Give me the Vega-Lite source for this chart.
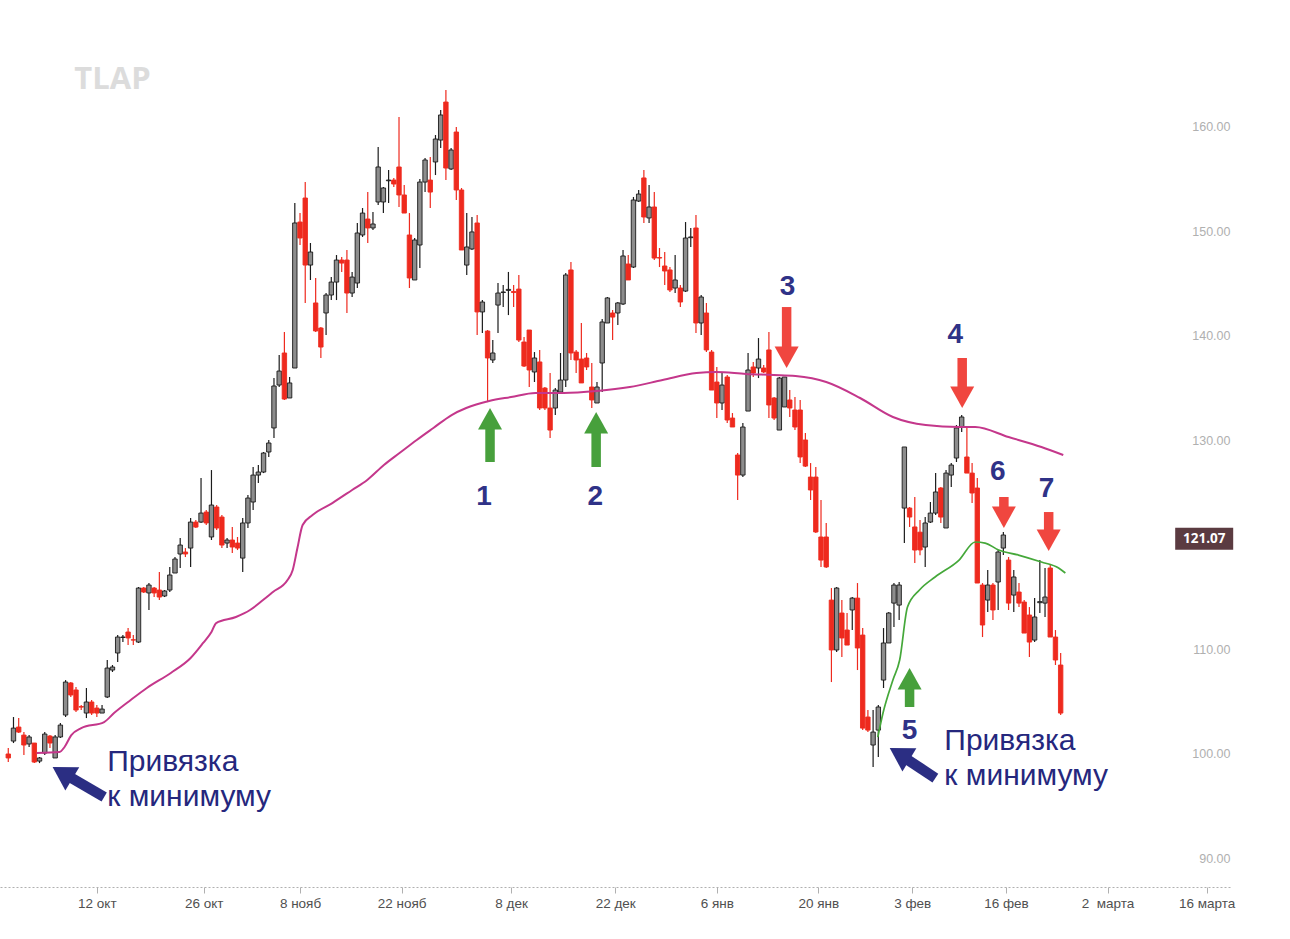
{
  "$schema": "https://vega.github.io/schema/vega-lite/v6.json",
  "width": 1232,
  "height": 887,
  "padding": {"left": 0, "top": 0, "right": 58, "bottom": 52},
  "autosize": {"type": "none"},
  "background": "white",
  "config": {"view": {"stroke": null}},
  "datasets": {
    "candles": [
      {"i":0,"o":99.96,"h":100.53,"l":99.19,"c":99.58},
      {"i":1,"o":101.20,"h":103.50,"l":101.01,"c":102.44},
      {"i":2,"o":102.54,"h":103.40,"l":101.96,"c":102.06},
      {"i":3,"o":101.77,"h":102.06,"l":99.86,"c":100.82},
      {"i":4,"o":100.92,"h":101.77,"l":100.63,"c":101.59},
      {"i":5,"o":101.01,"h":101.01,"l":99.09,"c":99.19},
      {"i":6,"o":99.28,"h":99.67,"l":99.09,"c":99.58},
      {"i":7,"o":100.05,"h":102.06,"l":99.86,"c":101.87},
      {"i":8,"o":101.68,"h":101.77,"l":100.53,"c":101.01},
      {"i":9,"o":99.58,"h":101.77,"l":99.58,"c":101.59},
      {"i":10,"o":101.59,"h":102.92,"l":101.49,"c":102.73},
      {"i":11,"o":103.69,"h":107.04,"l":103.50,"c":106.85},
      {"i":12,"o":106.76,"h":106.85,"l":105.42,"c":105.61},
      {"i":13,"o":106.09,"h":106.37,"l":103.98,"c":104.17},
      {"i":14,"o":104.50,"h":104.65,"l":104.17,"c":104.45},
      {"i":15,"o":103.88,"h":106.28,"l":103.40,"c":104.94},
      {"i":16,"o":104.94,"h":105.13,"l":103.69,"c":103.88},
      {"i":17,"o":104.36,"h":104.65,"l":103.50,"c":103.88},
      {"i":18,"o":103.88,"h":104.65,"l":103.88,"c":104.26},
      {"i":19,"o":105.42,"h":108.96,"l":105.32,"c":108.19},
      {"i":20,"o":108.00,"h":108.48,"l":107.81,"c":108.29},
      {"i":21,"o":109.63,"h":111.35,"l":108.77,"c":111.16},
      {"i":22,"o":111.12,"h":111.35,"l":110.68,"c":111.16},
      {"i":23,"o":111.64,"h":112.02,"l":110.39,"c":111.07},
      {"i":24,"o":110.90,"h":111.35,"l":110.39,"c":110.87},
      {"i":25,"o":110.68,"h":115.95,"l":110.59,"c":115.85},
      {"i":26,"o":115.85,"h":115.95,"l":115.38,"c":115.47},
      {"i":27,"o":115.38,"h":116.33,"l":113.75,"c":116.14},
      {"i":28,"o":115.85,"h":115.95,"l":114.99,"c":115.38},
      {"i":29,"o":115.66,"h":117.39,"l":114.70,"c":114.99},
      {"i":30,"o":115.09,"h":115.66,"l":114.99,"c":115.57},
      {"i":31,"o":115.66,"h":117.87,"l":115.47,"c":117.10},
      {"i":32,"o":117.29,"h":118.82,"l":117.29,"c":118.63},
      {"i":33,"o":119.11,"h":120.64,"l":117.77,"c":119.97},
      {"i":34,"o":119.30,"h":119.68,"l":118.82,"c":119.11},
      {"i":35,"o":119.68,"h":122.56,"l":117.87,"c":122.17},
      {"i":36,"o":122.17,"h":122.36,"l":121.60,"c":121.69},
      {"i":37,"o":122.17,"h":126.39,"l":122.08,"c":123.03},
      {"i":38,"o":123.13,"h":123.32,"l":121.89,"c":122.08},
      {"i":39,"o":120.74,"h":127.15,"l":120.45,"c":123.80},
      {"i":40,"o":123.61,"h":123.80,"l":121.41,"c":121.60},
      {"i":41,"o":122.65,"h":122.84,"l":119.68,"c":119.97},
      {"i":42,"o":120.16,"h":120.64,"l":119.68,"c":120.45},
      {"i":43,"o":120.45,"h":121.70,"l":119.20,"c":119.78},
      {"i":44,"o":120.16,"h":120.74,"l":119.49,"c":119.68},
      {"i":45,"o":118.72,"h":122.56,"l":117.39,"c":122.08},
      {"i":46,"o":122.08,"h":124.76,"l":121.60,"c":124.47},
      {"i":47,"o":124.09,"h":127.44,"l":123.32,"c":126.67},
      {"i":48,"o":126.67,"h":127.63,"l":125.91,"c":126.96},
      {"i":49,"o":126.96,"h":128.88,"l":126.86,"c":128.78},
      {"i":50,"o":128.88,"h":130.03,"l":128.40,"c":129.74},
      {"i":51,"o":131.18,"h":135.96,"l":130.22,"c":135.20},
      {"i":52,"o":135.29,"h":138.17,"l":135.10,"c":136.63},
      {"i":53,"o":138.36,"h":140.37,"l":133.86,"c":133.95},
      {"i":54,"o":134.05,"h":136.06,"l":134.05,"c":135.49},
      {"i":55,"o":136.92,"h":152.72,"l":136.92,"c":150.81},
      {"i":56,"o":150.90,"h":151.76,"l":148.70,"c":149.37},
      {"i":57,"o":153.20,"h":154.73,"l":143.15,"c":146.78},
      {"i":58,"o":146.78,"h":148.89,"l":145.35,"c":148.03},
      {"i":59,"o":143.15,"h":145.54,"l":140.37,"c":140.47},
      {"i":60,"o":140.75,"h":140.85,"l":137.88,"c":138.93},
      {"i":61,"o":142.19,"h":144.10,"l":140.08,"c":143.91},
      {"i":62,"o":143.91,"h":145.63,"l":143.43,"c":145.15},
      {"i":63,"o":145.15,"h":147.74,"l":143.43,"c":147.26},
      {"i":64,"o":147.26,"h":147.55,"l":146.12,"c":146.97},
      {"i":65,"o":147.26,"h":148.22,"l":142.19,"c":144.10},
      {"i":66,"o":144.10,"h":146.12,"l":143.72,"c":145.63},
      {"i":67,"o":145.06,"h":150.81,"l":144.58,"c":149.85},
      {"i":68,"o":149.66,"h":152.24,"l":149.47,"c":151.76},
      {"i":69,"o":151.19,"h":153.77,"l":148.89,"c":150.33},
      {"i":70,"o":150.33,"h":151.86,"l":150.14,"c":150.71},
      {"i":71,"o":152.82,"h":158.08,"l":152.53,"c":156.17},
      {"i":72,"o":152.82,"h":154.25,"l":151.76,"c":154.16},
      {"i":73,"o":154.85,"h":155.88,"l":152.72,"c":154.92},
      {"i":74,"o":154.92,"h":155.12,"l":154.25,"c":154.54},
      {"i":75,"o":156.17,"h":160.96,"l":152.34,"c":153.49},
      {"i":76,"o":153.49,"h":154.45,"l":151.76,"c":151.76},
      {"i":77,"o":149.66,"h":151.76,"l":144.58,"c":145.54},
      {"i":78,"o":145.35,"h":149.37,"l":145.35,"c":149.18},
      {"i":79,"o":148.70,"h":155.02,"l":146.50,"c":154.73},
      {"i":80,"o":154.73,"h":157.03,"l":153.77,"c":156.84},
      {"i":81,"o":154.92,"h":157.13,"l":152.24,"c":153.77},
      {"i":82,"o":156.65,"h":159.23,"l":155.40,"c":158.85},
      {"i":83,"o":158.75,"h":161.63,"l":157.99,"c":161.15},
      {"i":84,"o":162.39,"h":163.54,"l":154.92,"c":156.07},
      {"i":85,"o":155.98,"h":157.99,"l":155.88,"c":157.80},
      {"i":86,"o":159.52,"h":160.00,"l":153.01,"c":153.97},
      {"i":87,"o":153.97,"h":154.16,"l":148.22,"c":148.22},
      {"i":88,"o":146.78,"h":151.76,"l":145.83,"c":148.51},
      {"i":89,"o":148.32,"h":151.38,"l":148.22,"c":149.95},
      {"i":90,"o":150.81,"h":151.57,"l":140.08,"c":142.29},
      {"i":91,"o":142.29,"h":143.43,"l":140.27,"c":143.24},
      {"i":92,"o":140.46,"h":140.56,"l":133.66,"c":137.88},
      {"i":93,"o":137.69,"h":139.60,"l":137.40,"c":138.36},
      {"i":94,"o":142.95,"h":145.06,"l":140.27,"c":144.10},
      {"i":95,"o":144.15,"h":144.87,"l":142.76,"c":144.20},
      {"i":96,"o":144.35,"h":146.12,"l":141.99,"c":144.45},
      {"i":97,"o":144.25,"h":144.87,"l":142.76,"c":144.15},
      {"i":98,"o":144.48,"h":145.83,"l":139.41,"c":139.60},
      {"i":99,"o":139.41,"h":139.89,"l":137.01,"c":137.11},
      {"i":100,"o":140.56,"h":140.56,"l":135.10,"c":136.73},
      {"i":101,"o":136.54,"h":138.45,"l":135.58,"c":137.88},
      {"i":102,"o":137.50,"h":138.65,"l":132.90,"c":133.09},
      {"i":103,"o":135.00,"h":135.10,"l":132.90,"c":133.09},
      {"i":104,"o":133.09,"h":136.44,"l":130.22,"c":130.98},
      {"i":105,"o":133.09,"h":135.00,"l":132.42,"c":134.81},
      {"i":106,"o":134.62,"h":138.36,"l":134.53,"c":135.77},
      {"i":107,"o":135.77,"h":146.02,"l":135.10,"c":145.83},
      {"i":108,"o":146.31,"h":147.07,"l":137.69,"c":138.36},
      {"i":109,"o":138.45,"h":138.65,"l":136.44,"c":137.69},
      {"i":110,"o":137.78,"h":141.23,"l":135.49,"c":135.49},
      {"i":111,"o":137.88,"h":138.36,"l":136.73,"c":137.02},
      {"i":112,"o":135.10,"h":137.40,"l":133.09,"c":133.86},
      {"i":113,"o":133.57,"h":135.58,"l":133.57,"c":135.10},
      {"i":114,"o":137.40,"h":141.61,"l":134.62,"c":141.33},
      {"i":115,"o":141.23,"h":143.72,"l":141.23,"c":143.63},
      {"i":116,"o":142.19,"h":142.48,"l":139.60,"c":141.80},
      {"i":117,"o":142.19,"h":143.24,"l":141.04,"c":143.15},
      {"i":118,"o":143.05,"h":148.22,"l":142.95,"c":147.65},
      {"i":119,"o":146.88,"h":147.74,"l":145.35,"c":145.35},
      {"i":120,"o":146.59,"h":153.30,"l":146.50,"c":153.01},
      {"i":121,"o":152.91,"h":153.97,"l":152.82,"c":153.58},
      {"i":122,"o":155.12,"h":155.88,"l":150.81,"c":151.38},
      {"i":123,"o":151.29,"h":154.45,"l":150.81,"c":152.34},
      {"i":124,"o":152.34,"h":153.77,"l":147.26,"c":147.45},
      {"i":125,"o":147.50,"h":148.41,"l":146.59,"c":147.45},
      {"i":126,"o":146.69,"h":148.03,"l":144.87,"c":146.21},
      {"i":127,"o":146.31,"h":146.59,"l":144.20,"c":144.39},
      {"i":128,"o":144.58,"h":147.74,"l":144.10,"c":145.35},
      {"i":129,"o":144.58,"h":144.87,"l":142.76,"c":143.24},
      {"i":130,"o":144.29,"h":150.90,"l":144.20,"c":149.37},
      {"i":131,"o":149.40,"h":150.33,"l":148.51,"c":149.47},
      {"i":132,"o":150.33,"h":151.57,"l":140.27,"c":141.23},
      {"i":133,"o":141.23,"h":143.91,"l":140.08,"c":143.72},
      {"i":134,"o":142.19,"h":143.15,"l":138.45,"c":138.65},
      {"i":135,"o":138.45,"h":138.65,"l":134.81,"c":134.81},
      {"i":136,"o":135.58,"h":137.02,"l":132.13,"c":133.57},
      {"i":137,"o":133.57,"h":136.44,"l":132.90,"c":135.29},
      {"i":138,"o":136.06,"h":136.25,"l":131.65,"c":131.94},
      {"i":139,"o":132.13,"h":132.61,"l":131.27,"c":131.27},
      {"i":140,"o":128.59,"h":128.78,"l":124.28,"c":126.67},
      {"i":141,"o":126.67,"h":131.65,"l":126.48,"c":131.27},
      {"i":142,"o":132.80,"h":138.36,"l":132.80,"c":136.73},
      {"i":143,"o":137.02,"h":137.50,"l":136.06,"c":136.44},
      {"i":144,"o":136.92,"h":139.79,"l":135.96,"c":137.78},
      {"i":145,"o":136.92,"h":137.21,"l":136.44,"c":136.54},
      {"i":146,"o":138.65,"h":140.37,"l":132.13,"c":133.38},
      {"i":147,"o":134.05,"h":134.14,"l":131.94,"c":132.13},
      {"i":148,"o":130.98,"h":136.06,"l":130.98,"c":135.96},
      {"i":149,"o":133.19,"h":136.06,"l":133.19,"c":136.06},
      {"i":150,"o":133.86,"h":134.81,"l":132.23,"c":133.09},
      {"i":151,"o":132.90,"h":134.14,"l":130.98,"c":131.27},
      {"i":152,"o":132.90,"h":133.86,"l":127.82,"c":128.40},
      {"i":153,"o":130.03,"h":130.70,"l":127.44,"c":127.53},
      {"i":154,"o":126.48,"h":127.82,"l":124.28,"c":125.24},
      {"i":155,"o":126.48,"h":127.44,"l":121.12,"c":121.22},
      {"i":156,"o":120.74,"h":124.28,"l":117.87,"c":118.53},
      {"i":157,"o":120.74,"h":122.08,"l":117.77,"c":117.87},
      {"i":158,"o":114.70,"h":115.85,"l":106.85,"c":109.92},
      {"i":159,"o":109.92,"h":115.95,"l":109.73,"c":115.85},
      {"i":160,"o":113.46,"h":114.70,"l":109.25,"c":111.07},
      {"i":161,"o":111.83,"h":113.46,"l":110.39,"c":110.39},
      {"i":162,"o":113.75,"h":114.99,"l":111.83,"c":114.89},
      {"i":163,"o":114.89,"h":116.33,"l":108.00,"c":110.11},
      {"i":164,"o":111.35,"h":112.02,"l":102.25,"c":102.44},
      {"i":165,"o":103.50,"h":104.17,"l":102.06,"c":102.25},
      {"i":166,"o":100.82,"h":104.17,"l":98.71,"c":102.06},
      {"i":167,"o":102.25,"h":104.65,"l":99.67,"c":104.46},
      {"i":168,"o":107.04,"h":112.02,"l":106.28,"c":110.59},
      {"i":169,"o":110.59,"h":113.56,"l":110.59,"c":113.46},
      {"i":170,"o":114.41,"h":116.33,"l":112.12,"c":116.14},
      {"i":171,"o":114.22,"h":116.43,"l":112.79,"c":116.14},
      {"i":172,"o":123.51,"h":129.36,"l":120.16,"c":129.36},
      {"i":173,"o":123.51,"h":123.61,"l":121.70,"c":122.65},
      {"i":174,"o":121.70,"h":124.57,"l":118.25,"c":119.49},
      {"i":175,"o":121.20,"h":122.36,"l":119.00,"c":119.50},
      {"i":176,"o":119.78,"h":122.65,"l":117.87,"c":122.08},
      {"i":177,"o":122.17,"h":124.09,"l":122.08,"c":123.03},
      {"i":178,"o":123.03,"h":126.86,"l":122.84,"c":125.05},
      {"i":179,"o":125.43,"h":125.53,"l":122.08,"c":122.65},
      {"i":180,"o":121.60,"h":127.15,"l":121.60,"c":126.86},
      {"i":181,"o":126.67,"h":127.82,"l":125.53,"c":127.63},
      {"i":182,"o":128.30,"h":131.46,"l":127.92,"c":131.18},
      {"i":183,"o":131.27,"h":132.42,"l":130.79,"c":132.23},
      {"i":184,"o":128.40,"h":131.27,"l":126.86,"c":126.86},
      {"i":185,"o":126.86,"h":127.82,"l":123.99,"c":124.95},
      {"i":186,"o":125.43,"h":126.39,"l":116.33,"c":116.33},
      {"i":187,"o":116.14,"h":116.33,"l":111.16,"c":112.31},
      {"i":188,"o":114.70,"h":117.58,"l":113.56,"c":116.14},
      {"i":189,"o":116.14,"h":116.33,"l":112.79,"c":113.75},
      {"i":190,"o":116.43,"h":119.49,"l":113.75,"c":119.30},
      {"i":191,"o":119.68,"h":121.22,"l":119.01,"c":120.93},
      {"i":192,"o":118.53,"h":118.82,"l":113.75,"c":114.41},
      {"i":193,"o":115.18,"h":117.58,"l":113.56,"c":116.91},
      {"i":194,"o":115.47,"h":116.33,"l":114.03,"c":114.41},
      {"i":195,"o":114.51,"h":114.70,"l":111.54,"c":111.54},
      {"i":196,"o":113.27,"h":114.03,"l":109.25,"c":110.68},
      {"i":197,"o":110.87,"h":114.89,"l":110.68,"c":113.08},
      {"i":198,"o":114.45,"h":118.53,"l":113.46,"c":114.55},
      {"i":199,"o":114.41,"h":117.77,"l":113.08,"c":114.99},
      {"i":200,"o":117.77,"h":118.06,"l":111.16,"c":111.16},
      {"i":201,"o":111.16,"h":111.83,"l":108.48,"c":108.96},
      {"i":202,"o":108.48,"h":109.63,"l":103.69,"c":103.88}
    ],
    "vwapMain": [
      {"i":5.46,"v":100.05},{"i":9.84,"v":100.15},{"i":10.8,"v":100.63},{"i":12.1,"v":101.77},
      {"i":14.0,"v":102.44},{"i":18.4,"v":103.02},{"i":20.3,"v":103.88},{"i":23.5,"v":105.13},
      {"i":26.6,"v":106.28},{"i":31.2,"v":107.72},{"i":35.0,"v":109.15},{"i":37.4,"v":110.59},
      {"i":39.0,"v":111.64},{"i":39.9,"v":112.50},{"i":43.7,"v":113.08},{"i":46.4,"v":113.75},
      {"i":48.9,"v":114.70},{"i":50.8,"v":115.47},{"i":53.6,"v":116.62},{"i":54.6,"v":117.58},
      {"i":55.5,"v":119.68},{"i":56.5,"v":121.89},{"i":58.4,"v":122.84},{"i":62.2,"v":123.99},
      {"i":66.0,"v":125.24},{"i":68.9,"v":126.20},{"i":72.1,"v":127.63},{"i":75.1,"v":128.78},
      {"i":78.4,"v":130.03},{"i":81.6,"v":131.18},{"i":85.1,"v":132.42},{"i":87.9,"v":133.09},
      {"i":92.3,"v":133.76},{"i":96.5,"v":134.14},{"i":101.2,"v":134.53},{"i":106.6,"v":134.53},
      {"i":113.0,"v":134.72},{"i":119.3,"v":135.10},{"i":125.6,"v":135.77},{"i":132.1,"v":136.44},
      {"i":135.9,"v":136.54},{"i":141.6,"v":136.35},{"i":146.9,"v":136.25},{"i":151.1,"v":136.15},
      {"i":157.0,"v":135.58},{"i":163.5,"v":134.05},{"i":169.8,"v":132.23},{"i":176.1,"v":131.46},
      {"i":182.5,"v":131.27},{"i":185.6,"v":131.27},{"i":192.0,"v":130.31},{"i":198.3,"v":129.36},
      {"i":202.5,"v":128.59}
    ],
    "vwapLow": [
      {"i":166.9,"v":101.58},{"i":167.9,"v":103.88},{"i":169.8,"v":107.04},{"i":171.1,"v":108.96},
      {"i":172.6,"v":114.03},{"i":174.9,"v":115.66},{"i":177.9,"v":116.91},{"i":182.5,"v":118.53},
      {"i":185.6,"v":120.26},{"i":187.5,"v":120.16},{"i":190.1,"v":119.49},{"i":193.9,"v":119.01},
      {"i":198.3,"v":118.34},{"i":201.6,"v":117.77},{"i":202.9,"v":117.29}
    ],
    "arrows": [
      {"i":92.47,"tip":133.09,"base":131.46,"tail":127.92,"kind":"up"},
      {"i":112.84,"tip":132.71,"base":131.08,"tail":127.44,"kind":"up"},
      {"i":173.0,"tip":108.20,"base":106.57,"tail":104.46,"kind":"up"},
      {"i":149.4,"tip":136.92,"base":138.55,"tail":142.76,"kind":"down"},
      {"i":183.1,"tip":133.09,"base":134.72,"tail":137.88,"kind":"down"},
      {"i":191.1,"tip":121.60,"base":123.23,"tail":124.57,"kind":"down"},
      {"i":199.7,"tip":119.40,"base":121.03,"tail":123.13,"kind":"down"}
    ],
    "anchors": [
      {"i":8.51,"tip":98.71,"bi":11.48,"base":97.85,"ti":18.41,"tail":95.84},
      {"i":169.19,"tip":100.53,"bi":172.07,"base":99.60,"ti":177.95,"tail":97.66}
    ],
    "numbers": [
      {"n":"1","i":91.33,"p":124.57},
      {"n":"2","i":112.65,"p":124.57},
      {"n":"3","i":149.58,"p":144.68},
      {"n":"4","i":181.76,"p":140.08},
      {"n":"5","i":173.0,"p":102.16},
      {"n":"6","i":189.94,"p":126.96},
      {"n":"7","i":199.28,"p":125.33}
    ],
    "notes": [
      {"t":"Привязка","i":19.0,"p":99.19},
      {"t":"к минимуму","i":19.0,"p":95.84},
      {"t":"Привязка","i":179.67,"p":101.20},
      {"t":"к минимуму","i":179.67,"p":97.85}
    ],
    "mark": [{"t":"TLAP","i":20.0,"p":164.5}],
    "last": [{"i":229.55,"p":121.07}]
  },
  "layer": [
    {
      "data": {"name": "candles"},
      "mark": {"type": "rule", "strokeWidth": 1.2},
      "encoding": {
        "x": {"field": "i", "type": "quantitative", "title": null,
              "scale": {"domain": [-0.6283, 233.927], "nice": false, "zero": false},
              "axis": {"values": [17, 37.5, 56, 75.5, 96.5, 116.5, 136, 155.5, 173.5, 191.5, 211, 230],
                       "labelExpr": "['12 окт','26 окт','8 нояб','22 нояб','8 дек','22 дек','6 янв','20 янв','3 фев','16 фев','2\u00a0 марта','16 марта'][indexof([17,37.5,56,75.5,96.5,116.5,136,155.5,173.5,191.5,211,230], datum.value)]",
                       "title": null, "grid": false, "domainDash": [2, 2], "domainColor": "#b0b0b0",
                       "tickColor": "#b0b0b0", "tickSize": 6, "labelColor": "#505050",
                       "labelFont": "Liberation Sans", "labelFontSize": 13.5, "labelPadding": 3,
                       "labelFlush": false, "labelOverlap": false}},
        "y": {"field": "l", "type": "quantitative", "title": null,
              "scale": {"domain": [87.224, 172.161], "nice": false, "zero": false},
              "axis": {"orient": "right", "values": [90, 100, 110, 130, 140, 150, 160], "format": ".2f",
                       "labelAlign": "right", "labelPadding": -2, "ticks": false, "tickSize": 0,
                       "domain": false, "grid": false, "title": null, "labelColor": "#b0b0b0",
                       "labelFont": "Liberation Sans", "labelFontSize": 12.5}},
        "y2": {"field": "h"},
        "color": {"condition": {"test": "datum.c >= datum.o", "value": "#1c1c1c"}, "value": "#ee2a1e"}
      }
    },
    {
      "data": {"name": "candles"},
      "mark": {"type": "bar", "size": 4.4, "strokeWidth": 0.9},
      "encoding": {
        "x": {"field": "i", "type": "quantitative", "title": null},
        "y": {"field": "o", "type": "quantitative", "title": null},
        "y2": {"field": "c"},
        "fill": {"condition": {"test": "datum.c >= datum.o", "value": "#8d8d8d"}, "value": "#ee2a1e"},
        "stroke": {"condition": {"test": "datum.c >= datum.o", "value": "#1a1a1a"}, "value": "#ee2a1e"}
      }
    },
    {
      "data": {"name": "vwapMain"},
      "mark": {"type": "line", "color": "#c4378b", "strokeWidth": 2, "interpolate": "monotone"},
      "encoding": {
        "x": {"field": "i", "type": "quantitative", "title": null},
        "y": {"field": "v", "type": "quantitative", "title": null}
      }
    },
    {
      "data": {"name": "vwapLow"},
      "mark": {"type": "line", "color": "#45a83a", "strokeWidth": 1.7, "interpolate": "monotone"},
      "encoding": {
        "x": {"field": "i", "type": "quantitative", "title": null},
        "y": {"field": "v", "type": "quantitative", "title": null}
      }
    },
    {
      "data": {"name": "arrows"},
      "mark": {"type": "rule", "strokeWidth": 9.5, "strokeCap": "butt"},
      "encoding": {
        "x": {"field": "i", "type": "quantitative", "title": null},
        "y": {"field": "tail", "type": "quantitative", "title": null},
        "y2": {"field": "base"},
        "color": {"field": "kind", "type": "nominal", "scale": {"domain": ["up", "down"], "range": ["#47a03c", "#f0463f"]}, "legend": null}
      }
    },
    {
      "data": {"name": "arrows"},
      "mark": {"type": "point", "filled": true, "opacity": 1, "size": 2304, "strokeWidth": 0},
      "encoding": {
        "x": {"field": "i", "type": "quantitative", "title": null},
        "y": {"field": "tip", "type": "quantitative", "title": null},
        "shape": {"field": "kind", "type": "nominal", "scale": {"domain": ["up", "down"], "range": ["M0,0L0.5,0.9L-0.5,0.9Z", "M0,0L0.5,-0.9L-0.5,-0.9Z"]}, "legend": null},
        "color": {"field": "kind", "type": "nominal", "scale": {"domain": ["up", "down"], "range": ["#47a03c", "#f0463f"]}, "legend": null}
      }
    },
    {
      "data": {"name": "anchors"},
      "mark": {"type": "rule", "strokeWidth": 10.5, "strokeCap": "butt", "color": "#2b2e83"},
      "encoding": {
        "x": {"field": "ti", "type": "quantitative", "title": null},
        "x2": {"field": "bi"},
        "y": {"field": "tail", "type": "quantitative", "title": null},
        "y2": {"field": "base"}
      }
    },
    {
      "data": {"name": "anchors"},
      "mark": {"type": "point", "filled": true, "opacity": 1, "size": 2916, "strokeWidth": 0, "color": "#2b2e83", "angle": -59, "shape": "M0,0L0.5,0.85L-0.5,0.85Z"},
      "encoding": {
        "x": {"field": "i", "type": "quantitative", "title": null},
        "y": {"field": "tip", "type": "quantitative", "title": null}
      }
    },
    {
      "data": {"name": "numbers"},
      "mark": {"type": "text", "font": "Liberation Sans", "fontWeight": "bold", "fontSize": 28, "color": "#2f3287", "align": "center", "baseline": "middle"},
      "encoding": {
        "x": {"field": "i", "type": "quantitative", "title": null},
        "y": {"field": "p", "type": "quantitative", "title": null},
        "text": {"field": "n"}
      }
    },
    {
      "data": {"name": "notes"},
      "mark": {"type": "text", "font": "Liberation Sans", "fontSize": 30, "color": "#25277d", "align": "left", "baseline": "middle"},
      "encoding": {
        "x": {"field": "i", "type": "quantitative", "title": null},
        "y": {"field": "p", "type": "quantitative", "title": null},
        "text": {"field": "t"}
      }
    },
    {
      "data": {"name": "mark"},
      "mark": {"type": "text", "font": "Open Sans", "fontWeight": "bold", "fontSize": 31, "color": "#dcdcdc", "align": "center", "baseline": "middle"},
      "encoding": {
        "x": {"field": "i", "type": "quantitative", "title": null},
        "y": {"field": "p", "type": "quantitative", "title": null},
        "text": {"field": "t"}
      }
    },
    {
      "data": {"name": "last"},
      "mark": {"type": "point", "filled": true, "opacity": 1, "size": 3364, "strokeWidth": 0, "color": "#5b3b41", "shape": "M-1,-0.2H1V0.56H-1Z"},
      "encoding": {
        "x": {"field": "i", "type": "quantitative", "title": null},
        "y": {"field": "p", "type": "quantitative", "title": null}
      }
    },
    {
      "data": {"name": "last"},
      "mark": {"type": "text", "font": "Open Sans", "fontWeight": "bold", "fontSize": 13.5, "color": "white", "align": "center", "baseline": "middle", "dy": 5.5},
      "encoding": {
        "x": {"field": "i", "type": "quantitative", "title": null},
        "y": {"field": "p", "type": "quantitative", "title": null},
        "text": {"field": "p", "type": "quantitative", "format": ".2f"}
      }
    }
  ]
}
